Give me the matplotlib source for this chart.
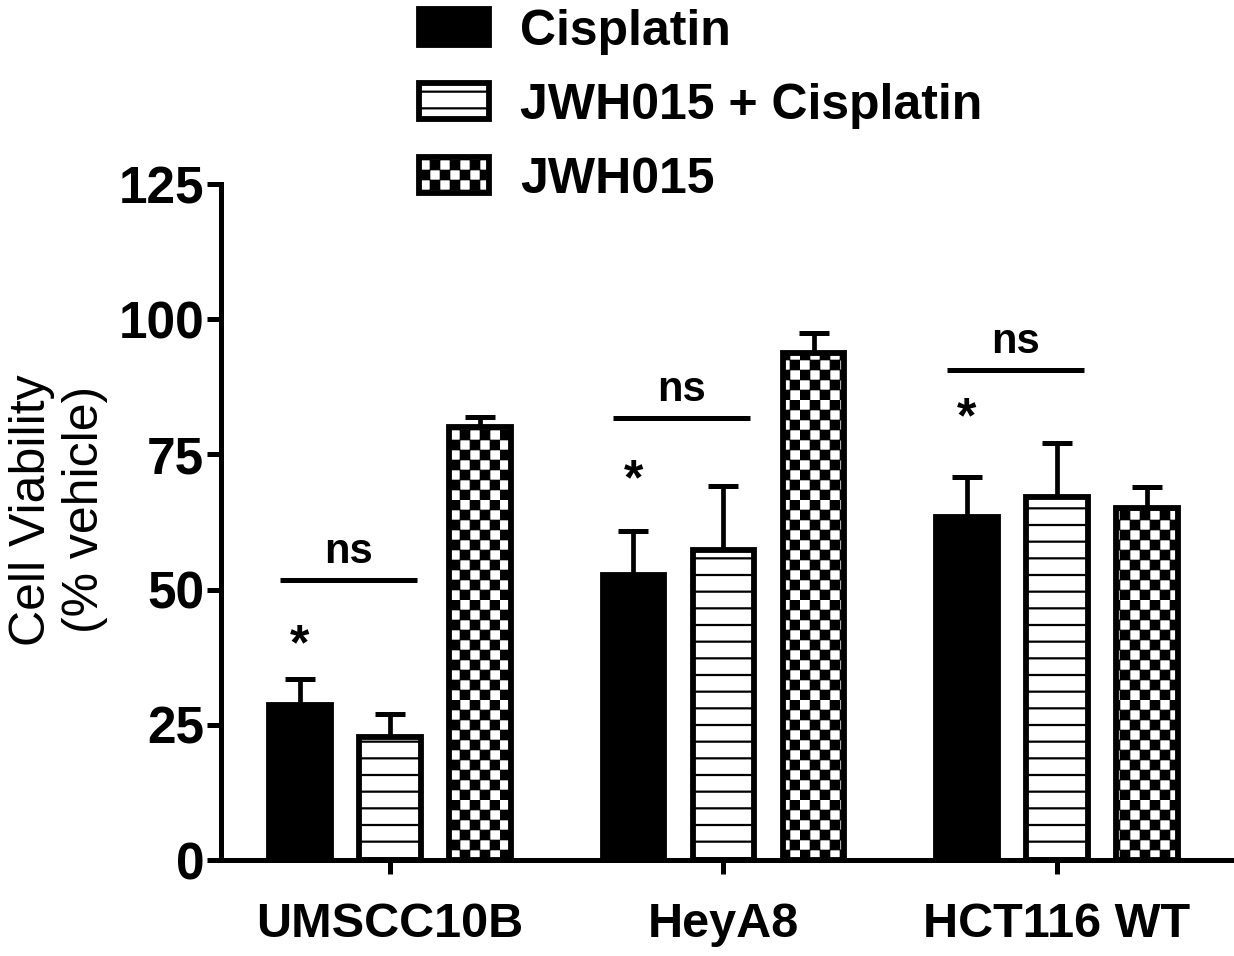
import matplotlib
matplotlib.use("Agg")
import matplotlib.pyplot as plt
import matplotlib.hatch as mhatch
from matplotlib.path import Path
import numpy as np

groups = ["UMSCC10B", "HeyA8", "HCT116 WT"]
series = ["Cisplatin", "JWH015 + Cisplatin", "JWH015"]
cisplatin = [28.7, 52.7, 63.4]
cisplatin_err = [4.8, 8.1, 7.4]
combo = [22.7, 57.3, 67.1]
combo_err = [4.3, 11.9, 10.0]
jwh = [80.0, 93.7, 65.1]
jwh_err = [2.0, 3.8, 3.9]

# significance marks per group: height of the "ns" bar, height of the star
ns_level = [51.8, 81.7, 90.6]
star_level = [39.5, 70.0, 81.5]


class CheckerHatch(mhatch.HatchPatternBase):
    # checkerboard fill, takes the place of the '*' hatch
    def __init__(self, hatch, density):
        self.num_cells = 10 if "*" in hatch else 0
        self.num_vertices = (self.num_cells ** 2 // 2) * 5

    def set_vertices_and_codes(self, vertices, codes):
        n = self.num_cells
        step = 1.0 / n
        inset = step * 0.08
        k = 0
        for i in range(n):
            for j in range(n):
                if (i + j) % 2:
                    continue
                x0, y0 = i * step + inset, j * step + inset
                x1, y1 = x0 + step - 2 * inset, y0 + step - 2 * inset
                vertices[k:k + 5] = [(x0, y0), (x1, y0), (x1, y1), (x0, y1), (x0, y0)]
                codes[k] = Path.MOVETO
                codes[k + 1:k + 4] = Path.LINETO
                codes[k + 4] = Path.CLOSEPOLY
                k += 5


mhatch._hatch_types = [h for h in mhatch._hatch_types if h is not mhatch.Stars] + [CheckerHatch]

plt.rcParams["font.family"] = ["Liberation Sans", "DejaVu Sans"]
plt.rcParams["hatch.linewidth"] = 1.6
plt.rcParams["hatch.color"] = "black"

fig = plt.figure(figsize=(12.34, 9.56), dpi=100)
ax = fig.add_axes([0.1791, 0.1004, 0.8193, 0.7071])

x = np.arange(len(groups))
offset = 0.27
width = 0.185
lw = 4.2

styles = [dict(facecolor="black", hatch=None),
          dict(facecolor="white", hatch="-"),
          dict(facecolor="white", hatch="*")]
values = [cisplatin, combo, jwh]
errors = [cisplatin_err, combo_err, jwh_err]

for i, (vals, errs, st, name) in enumerate(zip(values, errors, styles, series)):
    pos = x + (i - 1) * offset
    ax.errorbar(pos, vals, yerr=[np.zeros(len(vals)), errs], fmt="none",
                ecolor="black", elinewidth=3.4, capsize=10.5, capthick=3.6, zorder=2)
    ax.bar(pos, vals, width, facecolor=st["facecolor"], edgecolor="black",
           linewidth=lw, hatch=st["hatch"], label=name, zorder=3)

for g in range(len(groups)):
    x0 = x[g] - offset - 0.06
    x1 = x[g] + 0.08
    ax.plot([x0, x1], [ns_level[g], ns_level[g]], color="black", lw=3.6,
            solid_capstyle="butt")
    ax.text((x0 + x1) / 2, ns_level[g] + 5.2, "ns", ha="center", va="center",
            fontsize=30, fontweight="bold")
    ax.text(x[g] - offset, star_level[g], "*", ha="center", va="center",
            fontsize=36, fontweight="bold")

ax.set_xlim(-0.5067, 2.525)
ax.set_ylim(0, 125)
ax.set_yticks([0, 25, 50, 75, 100, 125])
ax.set_xticks(x)
ax.set_xticklabels(groups)

for side in ["top", "right"]:
    ax.spines[side].set_visible(False)
for side in ["left", "bottom"]:
    ax.spines[side].set_linewidth(3.6)

ax.tick_params(axis="y", length=10, width=3.6, pad=2, labelsize=37)
ax.tick_params(axis="x", length=10, width=3.6, pad=20, labelsize=35)
for lab in ax.get_xticklabels() + ax.get_yticklabels():
    lab.set_fontweight("bold")

ax.set_ylabel("Cell Viability\n(% vehicle)", fontsize=36, va="center",
              multialignment="center")
ax.yaxis.set_label_coords(-0.161, 0.518)

fig.legend(loc="upper left", bbox_to_anchor=(0.3395, 0.991), frameon=False,
           prop={"weight": "bold", "size": 36}, borderpad=0,
           handlelength=1.4, handleheight=0.75, handletextpad=0.62,
           labelspacing=0.56, borderaxespad=0)

fig.savefig("out.png", dpi=100)
